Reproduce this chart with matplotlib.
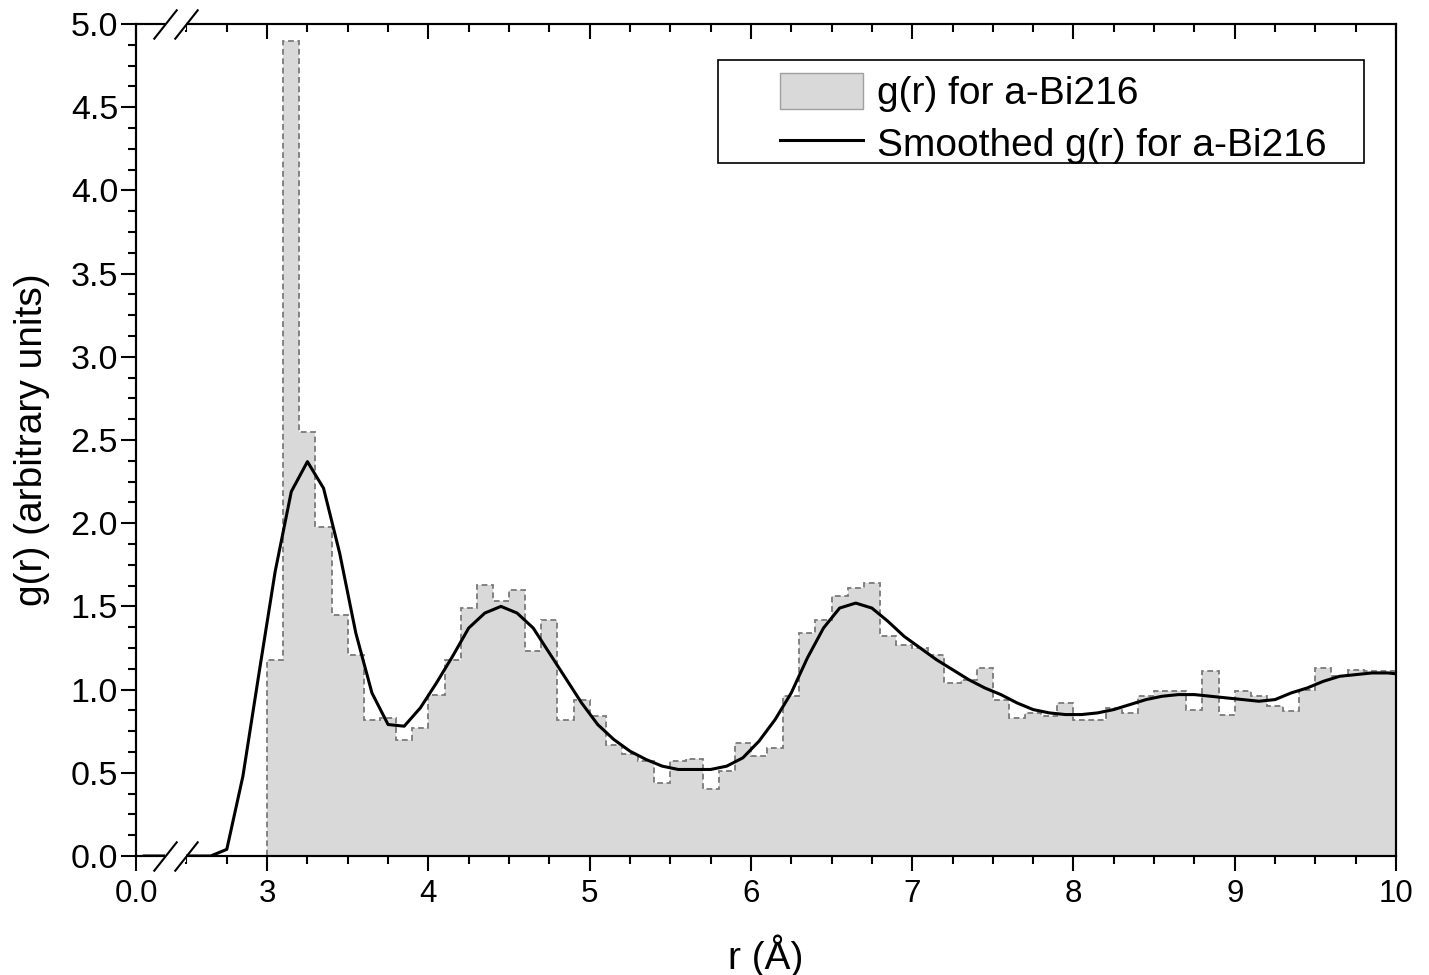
import matplotlib.pyplot as plt
import matplotlib.transforms as mtransforms
import numpy as np
from matplotlib.lines import Line2D
from matplotlib.patches import Patch, Rectangle
from matplotlib.ticker import FixedLocator, MultipleLocator, FormatStrFormatter

plt.rcParams['font.family'] = ['Liberation Sans', 'DejaVu Sans']

# g(r) histogram, 0.1 A bins from 0 to 10 A (empty below 3.0 A)
bin_edges = np.round(np.arange(101) * 0.1, 2)
gr_hist = [0.0] * 30 + [
    1.18, 4.90, 2.55, 1.98, 1.45, 1.21, 0.82, 0.83, 0.70, 0.77,   # 3.0 - 3.9
    0.97, 1.18, 1.49, 1.63, 1.53, 1.60, 1.23, 1.42, 0.82, 0.94,   # 4.0 - 4.9
    0.84, 0.67, 0.61, 0.57, 0.44, 0.57, 0.58, 0.40, 0.51, 0.68,   # 5.0 - 5.9
    0.60, 0.65, 0.96, 1.34, 1.42, 1.56, 1.61, 1.64, 1.32, 1.27,   # 6.0 - 6.9
    1.25, 1.21, 1.04, 1.06, 1.13, 0.94, 0.83, 0.86, 0.84, 0.92,   # 7.0 - 7.9
    0.82, 0.82, 0.89, 0.86, 0.96, 0.99, 0.99, 0.88, 1.11, 0.85,   # 8.0 - 8.9
    0.99, 0.96, 0.90, 0.87, 1.00, 1.13, 1.08, 1.12, 1.11, 1.11,   # 9.0 - 9.9
]

# smoothed g(r) at the bin centres (0.05 ... 10.05)
r_smooth = np.round(np.arange(101) * 0.1 + 0.05, 2)
gr_smooth = [0.0] * 27 + [
    0.04, 0.48, 1.10,                                             # 2.75 - 2.95
    1.71, 2.19, 2.37, 2.21, 1.82, 1.34, 0.98, 0.79, 0.78, 0.89,   # 3.05 - 3.95
    1.04, 1.20, 1.37, 1.46, 1.50, 1.46, 1.37, 1.22, 1.07, 0.92,   # 4.05 - 4.95
    0.79, 0.70, 0.63, 0.58, 0.54, 0.52, 0.52, 0.52, 0.54, 0.59,   # 5.05 - 5.95
    0.69, 0.82, 0.98, 1.19, 1.37, 1.49, 1.52, 1.49, 1.41, 1.32,   # 6.05 - 6.95
    1.25, 1.18, 1.12, 1.06, 1.01, 0.97, 0.92, 0.88, 0.86, 0.85,   # 7.05 - 7.95
    0.85, 0.86, 0.88, 0.91, 0.94, 0.96, 0.97, 0.97, 0.96, 0.95,   # 8.05 - 8.95
    0.94, 0.93, 0.94, 0.98, 1.01, 1.05, 1.08, 1.09, 1.10, 1.10,   # 9.05 - 9.95
    1.09,                                                         # 10.05
]

labels = ['g(r) for a-Bi216', 'Smoothed g(r) for a-Bi216']

# broken r axis: short 0.0 stub, then 2.5 .. 10
LEFT_END = 0.18
RIGHT_START = 2.5
GAP = 0.133


def fwd(x):
    x = np.asarray(x, dtype=float)
    mid = LEFT_END + (x - LEFT_END) * GAP / (RIGHT_START - LEFT_END)
    return np.where(x <= LEFT_END, x,
                    np.where(x >= RIGHT_START, x - RIGHT_START + LEFT_END + GAP, mid))


def inv(u):
    u = np.asarray(u, dtype=float)
    mid = LEFT_END + (u - LEFT_END) * (RIGHT_START - LEFT_END) / GAP
    return np.where(u <= LEFT_END, u,
                    np.where(u >= LEFT_END + GAP, u - LEFT_END - GAP + RIGHT_START, mid))


fig = plt.figure(figsize=(14.29, 9.75), dpi=100)
ax = fig.add_axes([136 / 1429, 1 - 856 / 975, 1260 / 1429, 832 / 975])
ax.set_xscale('function', functions=(fwd, inv))
ax.set_xlim(0, 10)
ax.set_ylim(0, 5)

ax.stairs(gr_hist, bin_edges, fill=True, color='#d9d9d9', lw=0, zorder=1)
ax.stairs(gr_hist, bin_edges, baseline=None, color='#7a7a7a', lw=1.3,
          ls=(0, (3.2, 2.0)), zorder=3)
line, = ax.plot(r_smooth, gr_smooth, color='black', lw=2.2, zorder=4)

major_x = [0, 3, 4, 5, 6, 7, 8, 9, 10]
minor_x = np.arange(2.5, 10.01, 0.25)
ax.set_xticks(major_x, ['0.0'] + [str(v) for v in major_x[1:]])
ax.xaxis.set_minor_locator(FixedLocator(minor_x))
ax.yaxis.set_major_locator(MultipleLocator(0.5))
ax.yaxis.set_minor_locator(MultipleLocator(0.125))
ax.yaxis.set_major_formatter(FormatStrFormatter('%.1f'))
ax.tick_params(which='both', direction='out', width=1.5,
               top=False, right=False)
ax.tick_params(which='major', length=10.8)
ax.tick_params(which='minor', length=5.8)
ax.tick_params(axis='x', pad=6, labelsize=22.5)
ax.tick_params(axis='y', pad=2, labelsize=24.5)

# top axis carries inward ticks only
top = ax.twiny()
top.set_xscale('function', functions=(fwd, inv))
top.set_xlim(0, 10)
top.set_xticks(major_x)
top.xaxis.set_minor_locator(FixedLocator(minor_x))
top.tick_params(axis='x', which='both', direction='in', width=1.5,
                top=True, bottom=False, labeltop=False)
top.tick_params(axis='x', which='major', length=10.8)
top.tick_params(axis='x', which='minor', length=5.8)

for a in (ax, top):
    for sp in a.spines.values():
        sp.set_linewidth(1.5)

ax.set_xlabel('r (Å)', fontsize=28, labelpad=18)
ax.set_ylabel('g(r) (arbitrary units)', fontsize=28, labelpad=15)

# axis break marks on bottom and top
brk = mtransforms.blended_transform_factory(ax.transData, ax.transAxes)
for yy in (0, 1):
    fig.add_artist(Rectangle((LEFT_END, yy - 0.007), RIGHT_START - LEFT_END, 0.014,
                             transform=brk, facecolor='white', edgecolor='none',
                             zorder=5))
    fig.add_artist(Line2D([LEFT_END, RIGHT_START], [yy, yy], transform=brk,
                          ls='none', marker=[(-0.79, -1), (0.79, 1)],
                          markersize=21.6, mew=1.5, color='black', zorder=6))

handles = [Patch(facecolor='#d9d9d9', edgecolor='#a0a0a0', lw=1), line]
ax.legend(handles, labels, loc='upper left',
          bbox_to_anchor=(780 / 1429, 1 - 73 / 975), bbox_transform=fig.transFigure,
          frameon=False, fontsize=28, handlelength=2.13, handleheight=1.03,
          handletextpad=0.36, labelspacing=0.32, borderpad=0, borderaxespad=0)
fig.add_artist(Rectangle((718 / 1429, 1 - 163 / 975), 646 / 1429, 103 / 975,
                         transform=fig.transFigure, fill=False,
                         edgecolor='black', lw=1.2))

fig.savefig('out.png', dpi=100)
